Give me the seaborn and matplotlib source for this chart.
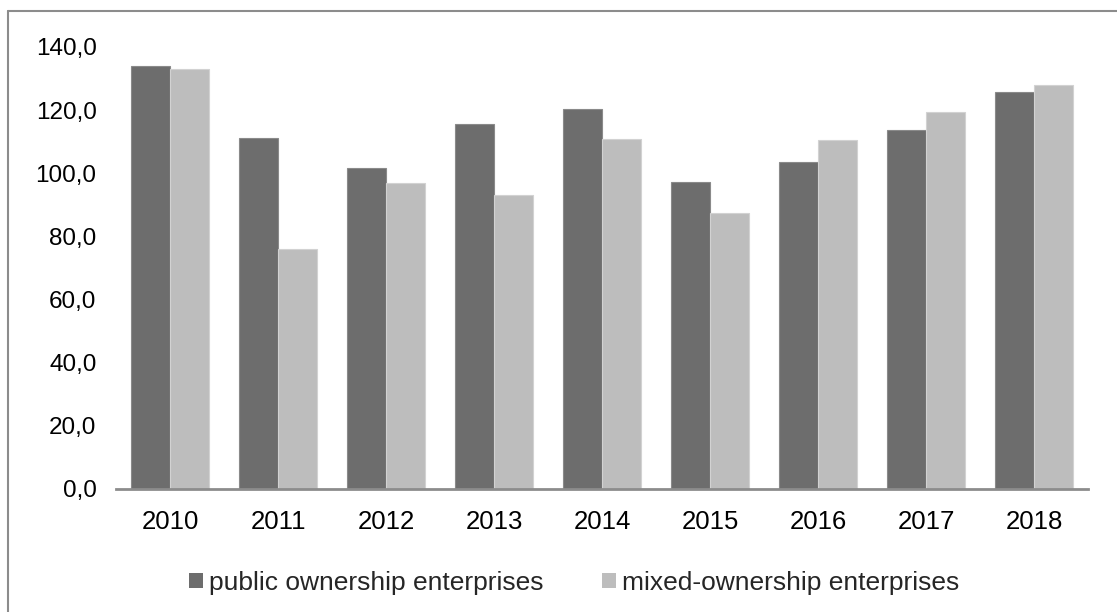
import matplotlib
matplotlib.use("Agg")
import matplotlib.pyplot as plt
from matplotlib.lines import Line2D
from matplotlib.patches import Patch
import seaborn as sns
import pandas as pd

# ---- data ----
years = ["2010", "2011", "2012", "2013", "2014", "2015", "2016", "2017", "2018"]
public_values = [134.0, 111.2, 101.8, 115.5, 120.4, 97.3, 103.7, 113.6, 125.7]
mixed_values = [132.9, 75.9, 96.8, 93.0, 110.9, 87.4, 110.5, 119.3, 127.9]
series_names = ["public ownership enterprises", "mixed-ownership enterprises"]
y_ticks = [0, 20, 40, 60, 80, 100, 120, 140]
y_tick_labels = ["0,0", "20,0", "40,0", "60,0", "80,0", "100,0", "120,0", "140,0"]

colors = ["#6d6d6d", "#bdbdbd"]
edges = ["#8a8a8a", "#d2d2d2"]

df = pd.DataFrame({
    "year": years * 2,
    "value": public_values + mixed_values,
    "series": [series_names[0]] * len(years) + [series_names[1]] * len(years),
})

sns.set_theme(style="white")
plt.rcParams["font.family"] = ["Liberation Sans", "DejaVu Sans"]

W, H = 1117, 612
fig = plt.figure(figsize=(W / 100, H / 100), dpi=100)
ax = fig.add_axes([116 / W, 1 - 489 / H, (1088 - 116) / W, (489 - 47) / H])

sns.barplot(data=df, x="year", y="value", hue="series", palette=colors,
            width=0.722, gap=0, saturation=1, ax=ax, legend=False)

# thin edges like the reference
for i, cont in enumerate(ax.containers):
    for bar in cont:
        bar.set_edgecolor(edges[i])
        bar.set_linewidth(0.8)

ax.set_xlim(-0.5, len(years) - 0.5)
ax.set_ylim(0, 140)
ax.set_yticks(y_ticks)
ax.set_yticklabels(y_tick_labels)
ax.set_xlabel("")
ax.set_ylabel("")
ax.tick_params(axis="y", length=0, pad=14, labelsize=17.5, labelcolor="#000000")
ax.tick_params(axis="x", length=0, pad=15, labelsize=18.5, labelcolor="#000000")

for s in ["top", "right", "left"]:
    ax.spines[s].set_visible(False)
ax.spines["bottom"].set_color("#8c8c8c")
ax.spines["bottom"].set_linewidth(2)

# legend
handles = [Patch(facecolor=colors[0], edgecolor="none"),
           Patch(facecolor=colors[1], edgecolor="none")]
fig.legend(handles, series_names, loc="center", ncol=2, frameon=False,
           bbox_to_anchor=(574 / W, 1 - 583 / H), fontsize=19,
           handlelength=0.53, handleheight=0.53, handletextpad=0.25,
           columnspacing=2.2, borderpad=0)

# outer border (left and top only, as in the reference crop)
fig.add_artist(Line2D([8 / W, 8 / W], [0, 1 - 11 / H], transform=fig.transFigure,
                      color="#8c8c8c", linewidth=1.5))
fig.add_artist(Line2D([8 / W, 1], [1 - 11 / H, 1 - 11 / H], transform=fig.transFigure,
                      color="#8c8c8c", linewidth=1.5))

fig.savefig("out.png", dpi=100, facecolor="white")
